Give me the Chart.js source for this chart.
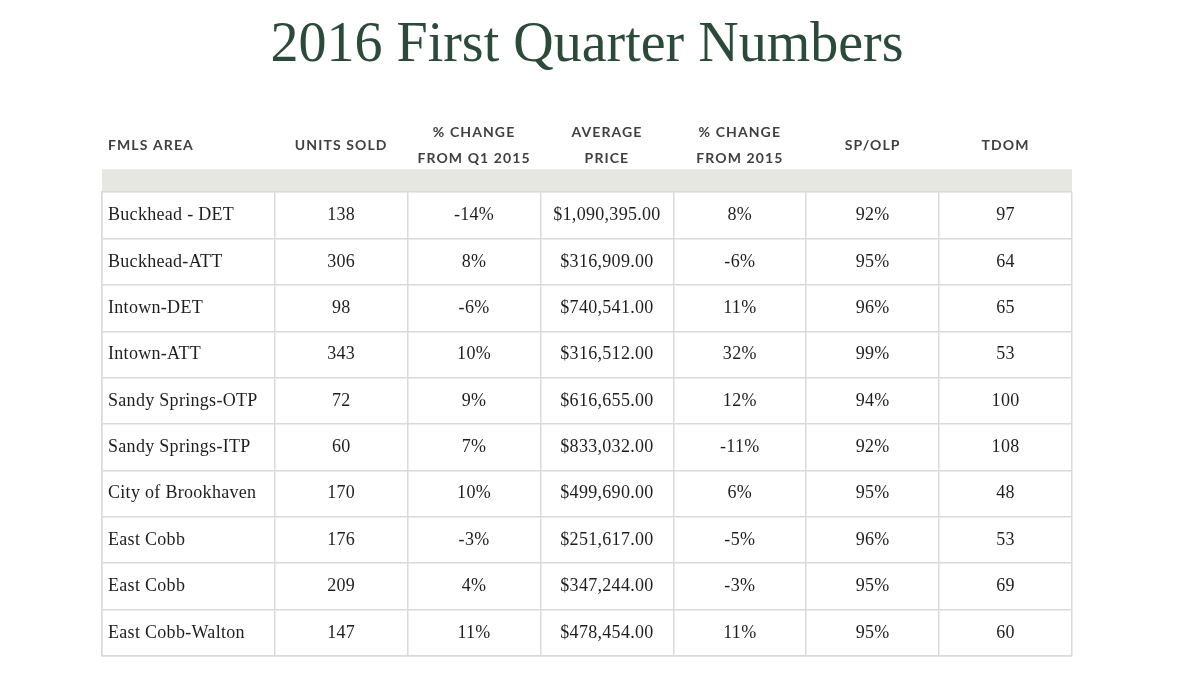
<!DOCTYPE html>
<html>
<head>
<meta charset="utf-8">
<script src="https://cdn.jsdelivr.net/npm/chart.js@4"></script>
<style>
  html, body { margin: 0; padding: 0; background: #fff; }
  #wrap { width: 1200px; height: 678px; }
</style>
</head>
<body>
<div id="wrap"><canvas id="tbl"></canvas></div>
<script>
// table contents, one array per column
const areas = ['Buckhead - DET', 'Buckhead-ATT', 'Intown-DET', 'Intown-ATT', 'Sandy Springs-OTP',
  'Sandy Springs-ITP', 'City of Brookhaven', 'East Cobb', 'East Cobb', 'East Cobb-Walton'];
const unitsSold = [138, 306, 98, 343, 72, 60, 170, 176, 209, 147];
const changeQ1 = [-14, 8, -6, 10, 9, 7, 10, -3, 4, 11];
const avgPrice = [1090395, 316909, 740541, 316512, 616655, 833032, 499690, 251617, 347244, 478454];
const change2015 = [8, -6, 11, 32, 12, -11, 6, -5, -3, 11];
const spOlp = [92, 95, 96, 99, 94, 92, 95, 96, 95, 95];
const tdom = [97, 64, 65, 53, 100, 108, 48, 53, 69, 60];
const headers = [['FMLS AREA'], ['UNITS SOLD'], ['% CHANGE', 'FROM Q1 2015'], ['AVERAGE', 'PRICE'],
  ['% CHANGE', 'FROM 2015'], ['SP/OLP'], ['TDOM']];

// column edges in x-scale units (first column is wider)
const colEdges = [0, 1.3, 2.3, 3.3, 4.3, 5.3, 6.3, 7.3];

const pct = v => v + '%';
const money = v => '$' + v.toLocaleString('en-US', { minimumFractionDigits: 2, maximumFractionDigits: 2 });
const columns = [
  areas,
  unitsSold.map(String),
  changeQ1.map(pct),
  avgPrice.map(money),
  change2015.map(pct),
  spOlp.map(pct),
  tdom.map(String)
];

const lineColor = '#dadada';

const tablePlugin = {
  id: 'tableCells',
  beforeDraw(chart) {
    const { ctx, chartArea, scales: { x } } = chart;
    // grey band under the header
    ctx.save();
    ctx.fillStyle = '#e7e7e1';
    ctx.fillRect(x.getPixelForValue(0), chartArea.top - 23, x.getPixelForValue(7.3) - x.getPixelForValue(0), 23);
    ctx.restore();
  },
  afterDraw(chart) {
    const { ctx, chartArea, scales: { x, y } } = chart;
    ctx.save();
    // header labels
    ctx.fillStyle = '#404040';
    ctx.font = 'bold 14px Lato';
    ctx.letterSpacing = '1.1px';
    ctx.textBaseline = 'middle';
    headers.forEach((lines, c) => {
      const left = x.getPixelForValue(colEdges[c]);
      const mid = x.getPixelForValue((colEdges[c] + colEdges[c + 1]) / 2);
      ctx.textAlign = c === 0 ? 'left' : 'center';
      const px = c === 0 ? left + 6 : mid;
      const baseY = chartArea.top - 47;
      if (lines.length === 1) {
        ctx.fillText(lines[0], px, baseY);
      } else {
        ctx.fillText(lines[0], px, baseY - 13);
        ctx.fillText(lines[1], px, baseY + 13);
      }
    });
    // body cells
    ctx.fillStyle = '#1e1e1e';
    ctx.font = '18px "Liberation Serif"';
    ctx.letterSpacing = '0.3px';
    columns.forEach((vals, c) => {
      const left = x.getPixelForValue(colEdges[c]);
      const mid = x.getPixelForValue((colEdges[c] + colEdges[c + 1]) / 2);
      ctx.textAlign = c === 0 ? 'left' : 'center';
      vals.forEach((v, r) => {
        ctx.fillText(v, c === 0 ? left + 6 : mid, y.getPixelForValue(r + 0.5));
      });
    });
    ctx.restore();
  }
};

new Chart(document.getElementById('tbl'), {
  type: 'scatter',
  data: { datasets: [] },
  plugins: [tablePlugin],
  options: {
    responsive: true,
    maintainAspectRatio: false,
    animation: false,
    layout: { padding: { left: 102, right: 128, top: 0, bottom: 22 } },
    plugins: {
      legend: { display: false },
      tooltip: { enabled: false },
      title: {
        display: true,
        text: '2016 First Quarter Numbers',
        color: '#2b4a3a',
        font: { family: 'Liberation Serif', size: 56, weight: 'normal' },
        padding: { top: 13, bottom: 112 }
      }
    },
    scales: {
      x: {
        type: 'linear',
        min: 0,
        max: 7.3,
        afterBuildTicks: axis => { axis.ticks = colEdges.map(v => ({ value: v })); },
        ticks: { display: false },
        grid: { color: lineColor, lineWidth: 1.5, drawTicks: false },
        border: { color: lineColor, width: 1.5 }
      },
      y: {
        type: 'linear',
        min: 0,
        max: 10,
        reverse: true,
        ticks: { display: false, stepSize: 1 },
        grid: { color: lineColor, lineWidth: 1.5, drawTicks: false },
        border: { color: lineColor, width: 1.5 }
      }
    }
  }
});
</script>
</body>
</html>
